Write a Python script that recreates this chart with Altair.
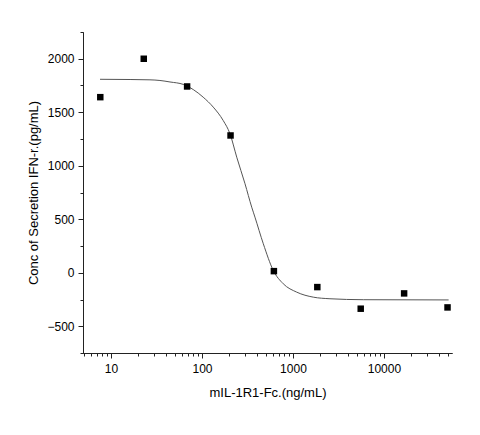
import altair as alt
import pandas as pd

# measured points (3-fold dilution series)
conc = [7.62, 22.9, 68.6, 206, 617, 1852, 5556, 16667, 50000]
ifn = [1641, 2000, 1741, 1283, 15, -134, -336, -193, -324]

# fitted curve
curve_x = [7.57, 16.2, 26.8, 34.5, 44.5, 62.4, 80.2, 103, 133, 171, 203, 241, 297, 352, 382, 472,
           608, 782, 1098, 1672, 2552, 5930, 51400]
curve_y = [1808, 1806, 1803, 1797, 1783, 1760, 1712, 1641, 1548, 1423, 1299, 1080, 832, 613, 520, 271,
           21, -103, -181, -228, -243, -252, -254]

x_major = [10, 100, 1000, 10000]
x_minor = [5, 6, 7, 8, 9, 20, 30, 40, 50, 60, 70, 80, 90, 200, 300, 400, 500, 600, 700, 800, 900,
           2000, 3000, 4000, 5000, 6000, 7000, 8000, 9000, 20000, 30000, 40000, 50000]
y_major = [-500, 0, 500, 1000, 1500, 2000]
y_minor = [-750, -250, 250, 750, 1250, 1750, 2250]

pts = pd.DataFrame({"x": conc, "y": ifn})
crv = pd.DataFrame({"x": curve_x, "y": curve_y})

FONT = "Liberation Sans"
xscale = alt.Scale(type="log", domain=[4.92, 56000], nice=False)
yscale = alt.Scale(domain=[-750, 2250], nice=False, zero=False)

line = alt.Chart(crv).mark_line(color="#555555", strokeWidth=1, clip=True, interpolate="monotone").encode(
    x=alt.X("x:Q", scale=xscale, title="mIL-1R1-Fc.(ng/mL)",
            axis=alt.Axis(values=x_major, format="d", orient="bottom", grid=False,
                          tickSize=5, labelPadding=5, titlePadding=12,
                          labelFontSize=12, titleFontSize=13, titleFontWeight="normal",
                          labelFont=FONT, titleFont=FONT, domainColor="#222222",
                          tickColor="#222222", labelColor="#000000", titleColor="#000000",
                          labelFlush=False)),
    y=alt.Y("y:Q", scale=yscale, title="Conc of Secretion IFN-r.(pg/mL)",
            axis=alt.Axis(values=y_major, format="d", orient="left", grid=False,
                          tickSize=5, labelPadding=4, titlePadding=6,
                          labelFontSize=12, titleFontSize=13, titleFontWeight="normal",
                          labelFont=FONT, titleFont=FONT, domainColor="#222222",
                          tickColor="#222222", labelColor="#000000", titleColor="#000000",
                          labelFlush=False)),
)

points = alt.Chart(pts).mark_square(color="#000000", size=42, opacity=1).encode(
    x=alt.X("x:Q", scale=xscale, title=None,
            axis=alt.Axis(values=x_minor, labels=False, orient="bottom", grid=False,
                          tickSize=3, domainColor="#222222", tickColor="#222222")),
    y=alt.Y("y:Q", scale=yscale, title=None,
            axis=alt.Axis(values=y_minor, labels=False, orient="left", grid=False,
                          tickSize=3, domainColor="#222222", tickColor="#222222")),
)

chart = alt.layer(line, points).resolve_axis(x="independent", y="independent").properties(
    width=369, height=321,
    autosize=alt.AutoSizeParams(type="none"),
    padding={"left": 75, "top": 24, "right": 20, "bottom": 60},
    background="white",
).configure_view(strokeWidth=0)

chart.save("out.html", embed_options={"renderer": "svg", "actions": False})
